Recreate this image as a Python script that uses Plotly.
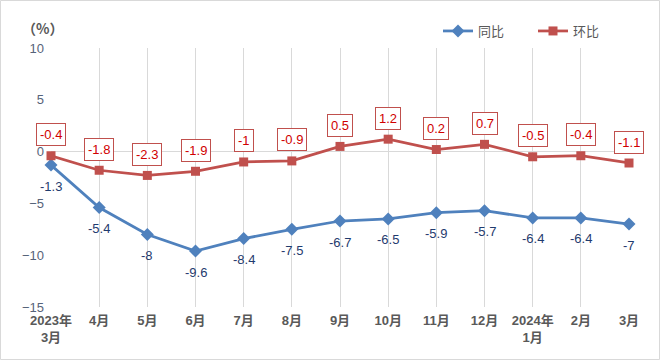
import plotly.graph_objects as go

categories = ["2023年<br>3月", "4月", "5月", "6月", "7月", "8月", "9月", "10月", "11月", "12月", "2024年<br>1月", "2月", "3月"]
yoy = [-1.3, -5.4, -8, -9.6, -8.4, -7.5, -6.7, -6.5, -5.9, -5.7, -6.4, -6.4, -7]
mom = [-0.4, -1.8, -2.3, -1.9, -1, -0.9, 0.5, 1.2, 0.2, 0.7, -0.5, -0.4, -1.1]
y_ticks = [10, 5, 0, -5, -10, -15]

W, H = 660, 360
L, R, T, B = 51, 31, 48, 53
FONT = "Liberation Sans, Arial, Noto Sans CJK SC, sans-serif"
pw, ph = W - L - R, H - T - B

xs = list(range(len(categories)))

fig = go.Figure()
fig.add_trace(go.Scatter(
    x=xs, y=yoy, name="同比", mode="lines+markers",
    line=dict(color="#4F81BD", width=2.75),
    marker=dict(symbol="diamond", size=10, color="#4F81BD"),
    cliponaxis=False, legend="legend",
))
fig.add_trace(go.Scatter(
    x=xs, y=mom, name="环比", mode="lines+markers",
    line=dict(color="#C0504D", width=2.75),
    marker=dict(symbol="square", size=9, color="#C0504D"),
    cliponaxis=False, legend="legend2",
))

annotations = []
for i, v in enumerate(yoy):
    annotations.append(dict(
        x=i, y=v, xref="x", yref="y", text=f"{v:g}", showarrow=False,
        yshift=-21, font=dict(family=FONT, size=13, color="#1F3B6E"),
    ))
for i, v in enumerate(mom):
    annotations.append(dict(
        x=i, y=v, xref="x", yref="y", text=f"{v:g}", showarrow=False,
        yshift=21, font=dict(family=FONT, size=13, color="#D00000"),
        bordercolor="#C0504D", borderwidth=1, borderpad=3, bgcolor="white",
    ))

annotations.append(dict(
    xref="paper", yref="paper", x=-9 / pw, y=1 + 20 / ph,
    text="<b>（%）</b>", showarrow=False, xanchor="center", yanchor="middle",
    font=dict(family="Noto Sans CJK SC, sans-serif", size=14, color="#595959"),
))

fig.add_shape(type="rect", xref="paper", yref="paper",
              x0=-(L - 0.5) / pw, x1=1 + (R - 0.5) / pw,
              y0=-(B - 0.5) / ph, y1=1 + (T - 0.5) / ph,
              line=dict(color="#D9D9D9", width=1), layer="below")

legend_common = dict(orientation="h", y=1 + 17 / ph, xanchor="left", yanchor="middle",
                     font=dict(size=13, color="#595959"), itemwidth=30,
                     bgcolor="rgba(0,0,0,0)")

fig.update_layout(
    width=W, height=H,
    margin=dict(l=L, r=R, t=T, b=B, autoexpand=False),
    paper_bgcolor="white", plot_bgcolor="white",
    font=dict(family=FONT, color="#595959"),
    showlegend=True,
    legend=dict(x=(438 - L) / pw, **legend_common),
    legend2=dict(x=(533 - L) / pw, **legend_common),
    annotations=annotations,
    xaxis=dict(
        range=[0, len(categories) - 1], tickmode="array", tickvals=xs,
        ticktext=[f"<b>{c}</b>" for c in categories],
        showgrid=True, gridcolor="#D9D9D9", gridwidth=1,
        zeroline=False, showline=False, ticks="", ticklabelstandoff=4,
        tickfont=dict(size=13, color="#595959"),
        fixedrange=True, automargin=False,
    ),
    yaxis=dict(
        range=[-15, 10], tickmode="array", tickvals=y_ticks,
        showgrid=False, zeroline=True, zerolinecolor="#D9D9D9", zerolinewidth=1,
        showline=False, ticks="", ticklabelstandoff=6,
        tickfont=dict(size=13, color="#56637A"),
        fixedrange=True, automargin=False,
    ),
)

fig.write_html("out.html", config={"displayModeBar": False},
               post_script="document.body.style.margin='0';document.body.style.overflow='hidden';")
